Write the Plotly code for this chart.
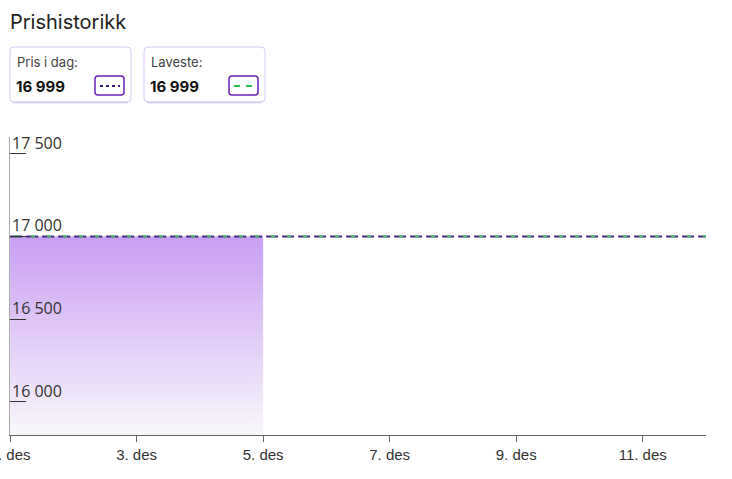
import plotly.graph_objects as go

# ---- data ----
dates = ["2023-12-01", "2023-12-05"]
prices = [16999, 16999]
line_dates = ["2023-12-01", "2023-12-12"]
today_price = [16999, 16999]
lowest_price = [16999, 16999]
x_tickvals = ["2023-12-01", "2023-12-03", "2023-12-05", "2023-12-07", "2023-12-09", "2023-12-11"]
x_ticktext = ["1. des", "3. des", "5. des", "7. des", "9. des", "11. des"]
y_tickvals = [16000, 16500, 17000, 17500]
y_ticktext = ["16 000", "16 500", "17 000", "17 500"]
title_text = "Prishistorikk"
card_labels = ["Pris i dag:", "Laveste:"]
card_values = ["16 999", "16 999"]

W, H = 732, 479
ML, MR, MT, MB = 10, 26, 137, 44
PW, PH = W - ML - MR, H - MT - MB


def px(x):
    return (x - ML) / PW


def py(y):
    return (H - MB - y) / PH


fig = go.Figure()

fig.add_trace(go.Scatter(
    x=dates, y=prices, mode="lines", line=dict(width=0, color="#cba1f3"),
    fill="tozeroy",
    fillgradient=dict(type="vertical", start=15800, stop=16999,
                      colorscale=[[0, "#f8f7fa"], [1, "#c99ff3"]]),
    hoverinfo="skip", showlegend=False,
))
fig.add_trace(go.Scatter(
    x=line_dates, y=today_price, mode="lines",
    line=dict(color="#3e2a7e", width=2, dash="12px,4px"),
    showlegend=False,
))
fig.add_trace(go.Scatter(
    x=line_dates, y=lowest_price, mode="lines",
    line=dict(color="#44c066", width=2, dash="0px,5px,4px,7px"),
    showlegend=False,
))

shapes = []
annotations = []


def rrect(x0, y0, x1, y1, r, color, width):
    p = (f"M {px(x0+r)} {py(y0)} L {px(x1-r)} {py(y0)} "
         f"Q {px(x1)} {py(y0)} {px(x1)} {py(y0+r)} L {px(x1)} {py(y1-r)} "
         f"Q {px(x1)} {py(y1)} {px(x1-r)} {py(y1)} L {px(x0+r)} {py(y1)} "
         f"Q {px(x0)} {py(y1)} {px(x0)} {py(y1-r)} L {px(x0)} {py(y0+r)} "
         f"Q {px(x0)} {py(y0)} {px(x0+r)} {py(y0)} Z")
    return dict(type="path", path=p, xref="paper", yref="paper",
                line=dict(color=color, width=width), fillcolor="rgba(0,0,0,0)", layer="above")


card_x = [10, 144]
icon_color = ["#3d1680", "#2fbf4c"]
for i, cx in enumerate(card_x):
    shapes.append(dict(type="line", xref="paper", yref="paper",
                       x0=px(cx + 3), x1=px(cx + 118), y0=py(102.5), y1=py(102.5),
                       line=dict(color="#d7cbf4", width=1.5)))
    shapes.append(rrect(cx, 47, cx + 121, 102, 4, "#d6c8f4", 1))
    shapes.append(rrect(cx + 85, 76, cx + 114, 95, 3, "#6a22b8", 1.5))
    shapes.append(dict(type="line", xref="paper", yref="paper",
                       x0=px(cx + 90), x1=px(cx + 110), y0=py(86), y1=py(86),
                       line=dict(color=icon_color[i], width=2,
                                 dash="3px,3px" if i == 0 else "6px,6px")))
    annotations.append(dict(text=card_labels[i], xref="paper", yref="paper",
                            x=px(cx + 5), y=py(62), xanchor="left", yanchor="middle",
                            showarrow=False, font=dict(family="Inter", size=13, color="#444")))
    annotations.append(dict(text="<b>" + card_values[i] + "</b>", xref="paper", yref="paper",
                            x=px(cx + 4), y=py(86), xanchor="left", yanchor="middle",
                            showarrow=False, font=dict(family="Inter", size=15, color="#111")))

annotations.append(dict(text=title_text, xref="paper", yref="paper",
                        x=px(8), y=py(22), xanchor="left", yanchor="middle",
                        showarrow=False, font=dict(family="Inter", size=20, color="#222")))

# y tick labels sit above their tick marks, inside the plot
for v, t in zip(y_tickvals, y_ticktext):
    annotations.append(dict(text=t, xref="paper", yref="y", x=px(10), y=v,
                            xanchor="left", yanchor="bottom", yshift=-2, showarrow=False,
                            font=dict(family="Open Sans", size=16, color="#333")))

fig.update_layout(
    width=W, height=H,
    margin=dict(l=ML, r=MR, t=MT, b=MB, autoexpand=False),
    paper_bgcolor="white", plot_bgcolor="white",
    shapes=shapes, annotations=annotations,
    font=dict(family="Liberation Sans", color="#333"),
    hovermode=False,
)
fig.update_xaxes(
    range=["2023-11-30 23:58", "2023-12-12"], tickvals=x_tickvals, ticktext=x_ticktext,
    showgrid=False, zeroline=False, showline=True, linecolor="#666", linewidth=1,
    ticks="outside", ticklen=6, tickcolor="#666", tickfont=dict(size=15, color="#333"),
    ticklabeloverflow="allow", automargin=False,
)
fig.update_yaxes(
    range=[15800, 17600], tickvals=y_tickvals, showticklabels=False,
    showgrid=False, zeroline=False, showline=True, linecolor="#aaa", linewidth=1,
    ticks="inside", ticklen=16, tickcolor="#333", automargin=False,
)

fig.write_html("out.html", config={"displayModeBar": False},
               post_script="document.body.style.margin='0px';")
